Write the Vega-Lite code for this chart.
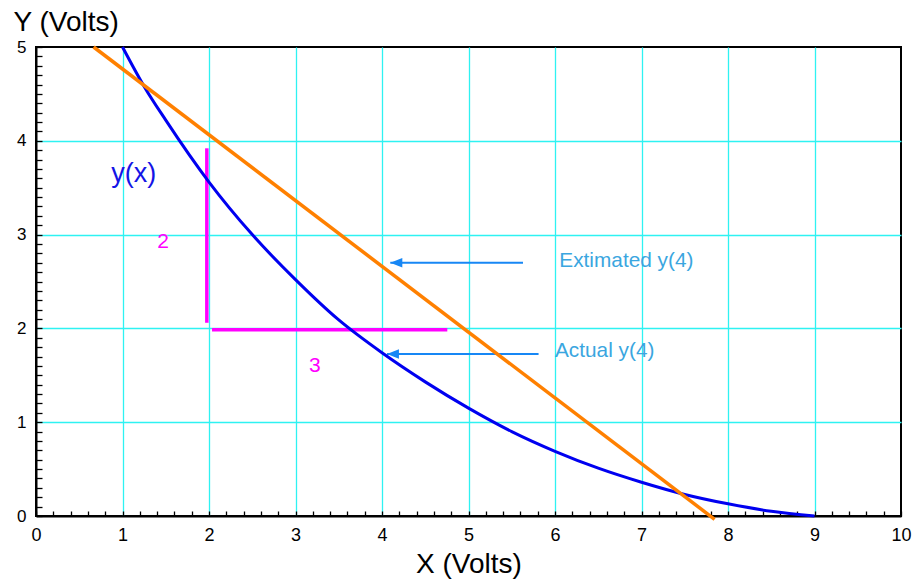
{
  "$schema": "https://vega.github.io/schema/vega-lite/v6.json",
  "autosize": "none",
  "width": 865,
  "height": 469,
  "padding": {"left": 36, "top": 47, "right": 13, "bottom": 63},
  "background": "white",
  "datasets": {
    "curve": [
      {"x": 1.0, "y": 5.0},
      {"x": 1.25, "y": 4.58},
      {"x": 1.5, "y": 4.22},
      {"x": 2.0, "y": 3.56},
      {"x": 2.5, "y": 3.0},
      {"x": 3.0, "y": 2.52},
      {"x": 3.5, "y": 2.09},
      {"x": 4.0, "y": 1.74},
      {"x": 4.5, "y": 1.43},
      {"x": 5.0, "y": 1.15},
      {"x": 5.5, "y": 0.9},
      {"x": 6.0, "y": 0.69},
      {"x": 6.5, "y": 0.51},
      {"x": 7.0, "y": 0.36},
      {"x": 7.5, "y": 0.23},
      {"x": 8.0, "y": 0.13},
      {"x": 8.5, "y": 0.05},
      {"x": 9.0, "y": 0.0}
    ],
    "tangent": [
      {"x": 0.666, "y": 5.0},
      {"x": 7.845, "y": -0.035}
    ],
    "sides": [
      {"side": "rise", "x": 1.975, "x2": 1.975, "y": 2.06, "y2": 3.92},
      {"side": "run", "x": 2.035, "x2": 4.755, "y": 1.986, "y2": 1.986}
    ],
    "arrows": [
      {"name": "Extimated y(4)", "tip": 4.096, "end": 5.63, "y": 2.70},
      {"name": "Actual y(4)", "tip": 4.057, "end": 5.81, "y": 1.727}
    ],
    "notes": [
      {"kind": "fn", "text": "y(x)", "x": 0.87, "y": 3.56},
      {"kind": "side", "text": "2", "x": 1.47, "y": 2.854},
      {"kind": "side", "text": "3", "x": 3.225, "y": 1.538},
      {"kind": "note", "text": "Extimated y(4)", "x": 6.05, "y": 2.65},
      {"kind": "note", "text": "Actual y(4)", "x": 6.0, "y": 1.70}
    ]
  },
  "encoding": {
    "x": {
      "field": "x",
      "type": "quantitative",
      "scale": {"domain": [0, 10], "nice": false, "zero": false},
      "axis": {
        "title": "X (Volts)",
        "values": [0, 0.2, 0.4, 0.6, 0.8, 1, 1.2, 1.4, 1.6, 1.8, 2, 2.2, 2.4, 2.6, 2.8, 3, 3.2, 3.4, 3.6, 3.8, 4, 4.2, 4.4, 4.6, 4.8, 5, 5.2, 5.4, 5.6, 5.8, 6, 6.2, 6.4, 6.6, 6.8, 7, 7.2, 7.4, 7.6, 7.8, 8, 8.2, 8.4, 8.6, 8.8, 9, 9.2, 9.4, 9.6, 9.8, 10],
        "labelExpr": "datum.value % 1 === 0 ? format(datum.value, 'd') : ''",
        "labelFlush": false,
        "labelOverlap": false,
        "labelPadding": 15,
        "labelFontSize": 18,
        "tickSize": -5,
        "gridOpacity": {
          "condition": {"test": "datum.value % 1 === 0 && datum.value > 0 && datum.value < 10", "value": 1},
          "value": 0
        },
        "titleY": 56,
        "titleBaseline": "alphabetic"
      }
    },
    "y": {
      "field": "y",
      "type": "quantitative",
      "scale": {"domain": [0, 5], "nice": false, "zero": false},
      "axis": {
        "title": "Y (Volts)",
        "values": [0, 0.1, 0.2, 0.3, 0.4, 0.5, 0.6, 0.7, 0.8, 0.9, 1, 1.1, 1.2, 1.3, 1.4, 1.5, 1.6, 1.7, 1.8, 1.9, 2, 2.1, 2.2, 2.3, 2.4, 2.5, 2.6, 2.7, 2.8, 2.9, 3, 3.1, 3.2, 3.3, 3.4, 3.5, 3.6, 3.7, 3.8, 3.9, 4, 4.1, 4.2, 4.3, 4.4, 4.5, 4.6, 4.7, 4.8, 4.9, 5],
        "labelExpr": "datum.value % 1 === 0 ? format(datum.value, 'd') : ''",
        "labelFlush": false,
        "labelOverlap": false,
        "labelPadding": 16,
        "labelFontSize": 17,
        "tickSize": -6,
        "gridOpacity": {
          "condition": {"test": "datum.value % 1 === 0 && datum.value > 0 && datum.value < 5", "value": 1},
          "value": 0
        },
        "titleAngle": 0,
        "titleAlign": "left",
        "titleBaseline": "alphabetic",
        "titleX": -23,
        "titleY": -17
      }
    }
  },
  "layer": [
    {
      "data": {"name": "sides"},
      "mark": {"type": "rule", "color": "#ff00ff", "strokeWidth": 3.5, "strokeCap": "butt"},
      "encoding": {
        "x2": {"field": "x2"},
        "y2": {"field": "y2"}
      }
    },
    {
      "data": {"name": "arrows"},
      "mark": {"type": "rule", "color": "#1787f5", "strokeWidth": 2},
      "encoding": {
        "x": {"field": "tip", "type": "quantitative"},
        "x2": {"field": "end"}
      }
    },
    {
      "data": {"name": "arrows"},
      "mark": {"type": "point", "shape": "M0,0L2,-0.8L2,0.8Z", "size": 144, "filled": true, "opacity": 1, "color": "#1787f5"},
      "encoding": {
        "x": {"field": "tip", "type": "quantitative"}
      }
    },
    {
      "data": {"name": "curve"},
      "mark": {"type": "line", "color": "#0000f0", "strokeWidth": 3, "interpolate": "monotone"},
      "encoding": {}
    },
    {
      "data": {"name": "tangent"},
      "mark": {"type": "line", "color": "#ff8000", "strokeWidth": 3.5},
      "encoding": {}
    },
    {
      "data": {"name": "notes"},
      "transform": [{"filter": "datum.kind === 'fn'"}],
      "mark": {"type": "text", "align": "left", "baseline": "alphabetic", "fontSize": 27, "color": "#1414e6"},
      "encoding": {"text": {"field": "text"}}
    },
    {
      "data": {"name": "notes"},
      "transform": [{"filter": "datum.kind === 'side'"}],
      "mark": {"type": "text", "align": "center", "baseline": "alphabetic", "fontSize": 21, "color": "#ff00ff"},
      "encoding": {"text": {"field": "text"}}
    },
    {
      "data": {"name": "notes"},
      "transform": [{"filter": "datum.kind === 'note'"}],
      "mark": {"type": "text", "align": "left", "baseline": "alphabetic", "fontSize": 20.8, "color": "#3aa6e0"},
      "encoding": {"text": {"field": "text"}}
    }
  ],
  "config": {
    "font": "Liberation Sans",
    "view": {"stroke": "black", "strokeWidth": 2},
    "axis": {
      "domainColor": "black",
      "domainWidth": 2,
      "tickColor": "black",
      "tickWidth": 1.3,
      "gridColor": "#2ef2f2",
      "gridWidth": 1.3,
      "labelFont": "Liberation Sans",
      "labelColor": "black",
      "titleFont": "Liberation Sans",
      "titleFontSize": 28,
      "titleFontWeight": "normal",
      "titleColor": "black"
    }
  }
}
